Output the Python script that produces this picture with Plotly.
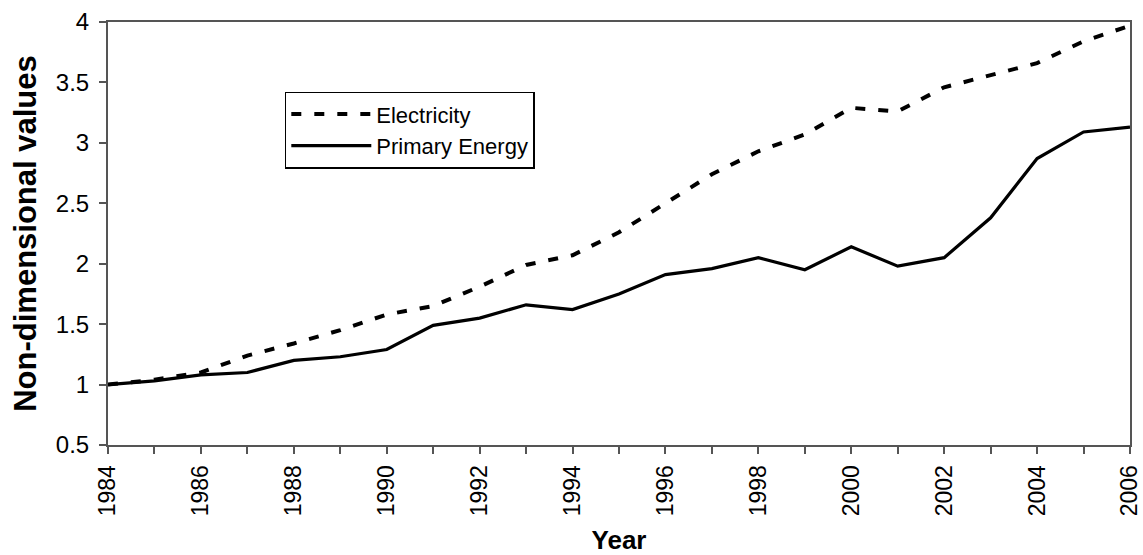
import plotly.graph_objects as go

years = list(range(1984, 2007))
electricity = [1.00, 1.04, 1.10, 1.24, 1.34, 1.45, 1.58, 1.65, 1.81, 1.99, 2.07, 2.26,
               2.50, 2.74, 2.93, 3.07, 3.29, 3.26, 3.46, 3.56, 3.66, 3.84, 3.97]
primary_energy = [1.00, 1.03, 1.08, 1.10, 1.20, 1.23, 1.29, 1.49, 1.55, 1.66, 1.62, 1.75,
                  1.91, 1.96, 2.05, 1.95, 2.14, 1.98, 2.05, 2.38, 2.87, 3.09, 3.13]
x_tick_labels = [str(y) if y % 2 == 0 else "" for y in years]
y_tick_vals = [0.5, 1, 1.5, 2, 2.5, 3, 3.5, 4]
y_tick_labels = ["0.5", "1", "1.5", "2", "2.5", "3", "3.5", "4"]

font_family = "Liberation Sans, Arial, sans-serif"
axis_color = "#555555"

fig = go.Figure()
fig.add_trace(go.Scatter(x=years, y=electricity, name="Electricity", mode="lines",
                         line=dict(color="black", width=4, dash="10px,13px")))
fig.add_trace(go.Scatter(x=years, y=primary_energy, name="Primary Energy", mode="lines",
                         line=dict(color="black", width=3.2)))

fig.update_layout(
    template="none",
    width=1143, height=555, autosize=False,
    margin=dict(l=108, r=13, t=22, b=110),
    paper_bgcolor="white", plot_bgcolor="white",
    font=dict(family=font_family, color="black"),
    showlegend=True,
    legend=dict(x=0.173, y=0.835, xanchor="left", yanchor="top",
                bgcolor="white", bordercolor="black", borderwidth=1.5,
                font=dict(size=22, family=font_family, color="black"),
                itemwidth=80, tracegroupgap=6),
    xaxis=dict(
        range=[1984, 2006], automargin=False,
        tickmode="array", tickvals=years, ticktext=x_tick_labels,
        tickangle=-90, ticks="outside", ticklen=7, tickwidth=2, tickcolor=axis_color,
        tickfont=dict(size=23, family=font_family, color="black"),
        ticklabelstandoff=2,
        showline=True, linecolor=axis_color, linewidth=2, mirror=True,
        showgrid=False, zeroline=False,
        title=dict(text="<b>Year</b>", font=dict(size=26, family=font_family, color="black"),
                   standoff=17),
    ),
    yaxis=dict(
        range=[0.5, 4], automargin=False,
        tickmode="array", tickvals=y_tick_vals, ticktext=y_tick_labels,
        ticks="outside", ticklen=7, tickwidth=2, tickcolor=axis_color,
        tickfont=dict(size=24, family=font_family, color="black"),
        ticklabelstandoff=5,
        showline=True, linecolor=axis_color, linewidth=2, mirror=True,
        showgrid=False, zeroline=False,
        title=dict(text="<b>Non-dimensional values</b>",
                   font=dict(size=31, family=font_family, color="black"),
                   standoff=10),
    ),
)

fig.write_html("out.html", config={"displayModeBar": False},
               post_script="document.body.style.margin='0';document.body.style.overflow='hidden';")
